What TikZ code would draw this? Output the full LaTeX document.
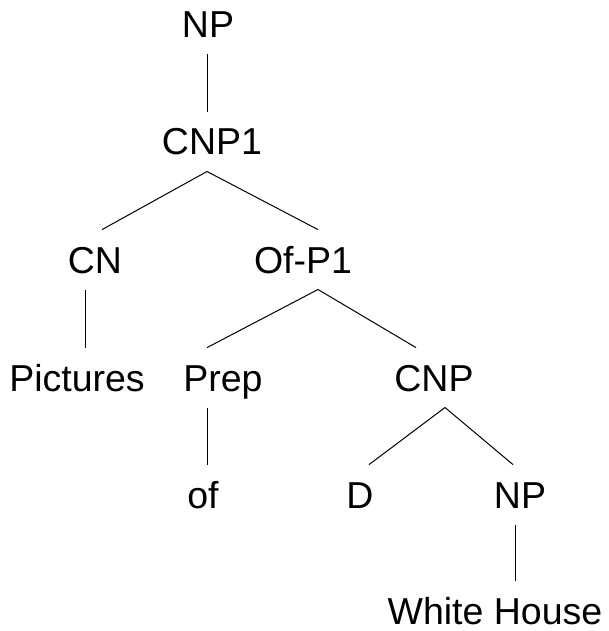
\documentclass[tikz,border=0pt]{standalone}
\usepackage{fontspec}
\setmainfont{Liberation Sans}
\usepackage{tikz}
\usetikzlibrary{positioning}

\begin{document}
\begin{tikzpicture}[x=1pt, y=-1pt, line width=1pt]
   \useasboundingbox (0,0) rectangle (609,631);
   \begin{scope}[every node/.style={anchor=base, inner xsep=0pt, inner ysep=16pt,
        text height=26.9pt, text depth=0pt, font=\fontsize{37.5}{45}\selectfont}]
    \node (np)   at (208,37.7) {NP};
    \node (cnp1) at (212,155)  {CNP1};
    \node (cn)   at (95,273)   {CN};
    \node (ofp)  at (303,273)  {Of-P1};
    \node (pict) at (77,391)   {Pictures};
    \node (prep) at (223,391)  {Prep};
    \node (cnp)  at (434,391)  {CNP};
    \node (of)   at (203,508)  {of};
    \node (d)    at (360,508)  {D};
    \node (np2)  at (520,508)  {NP};
    \node (wh) [inner ysep=4pt, text height=38.9pt] at (495,624) {White House};
   \end{scope}
   \begin{scope}[every edge/.style={draw=black,line width=1pt}]
    \draw ([xshift=-1pt]np.south)    edge ([xshift=-5pt]cnp1.north);
    \draw ([xshift=-5pt]cnp1.south)  edge ([xshift=7pt]cn.north);
    \draw ([xshift=-5pt]cnp1.south)  edge ([xshift=15pt]ofp.north);
    \draw ([xshift=-10pt]cn.south)   edge ([xshift=8pt]pict.north);
    \draw ([xshift=15pt]ofp.south)   edge ([xshift=-16pt]prep.north);
    \draw ([xshift=15pt]ofp.south)   edge ([xshift=-18pt]cnp.north);
    \draw ([xshift=-16pt]prep.south) edge ([xshift=4pt]of.north);
    \draw ([xshift=11pt]cnp.south)   edge ([xshift=9pt]d.north);
    \draw ([xshift=11pt]cnp.south)   edge ([xshift=-7pt]np2.north);
    \draw ([xshift=-5pt]np2.south)   edge ([xshift=20pt]wh.north);
   \end{scope}
\end{tikzpicture}
\end{document}
